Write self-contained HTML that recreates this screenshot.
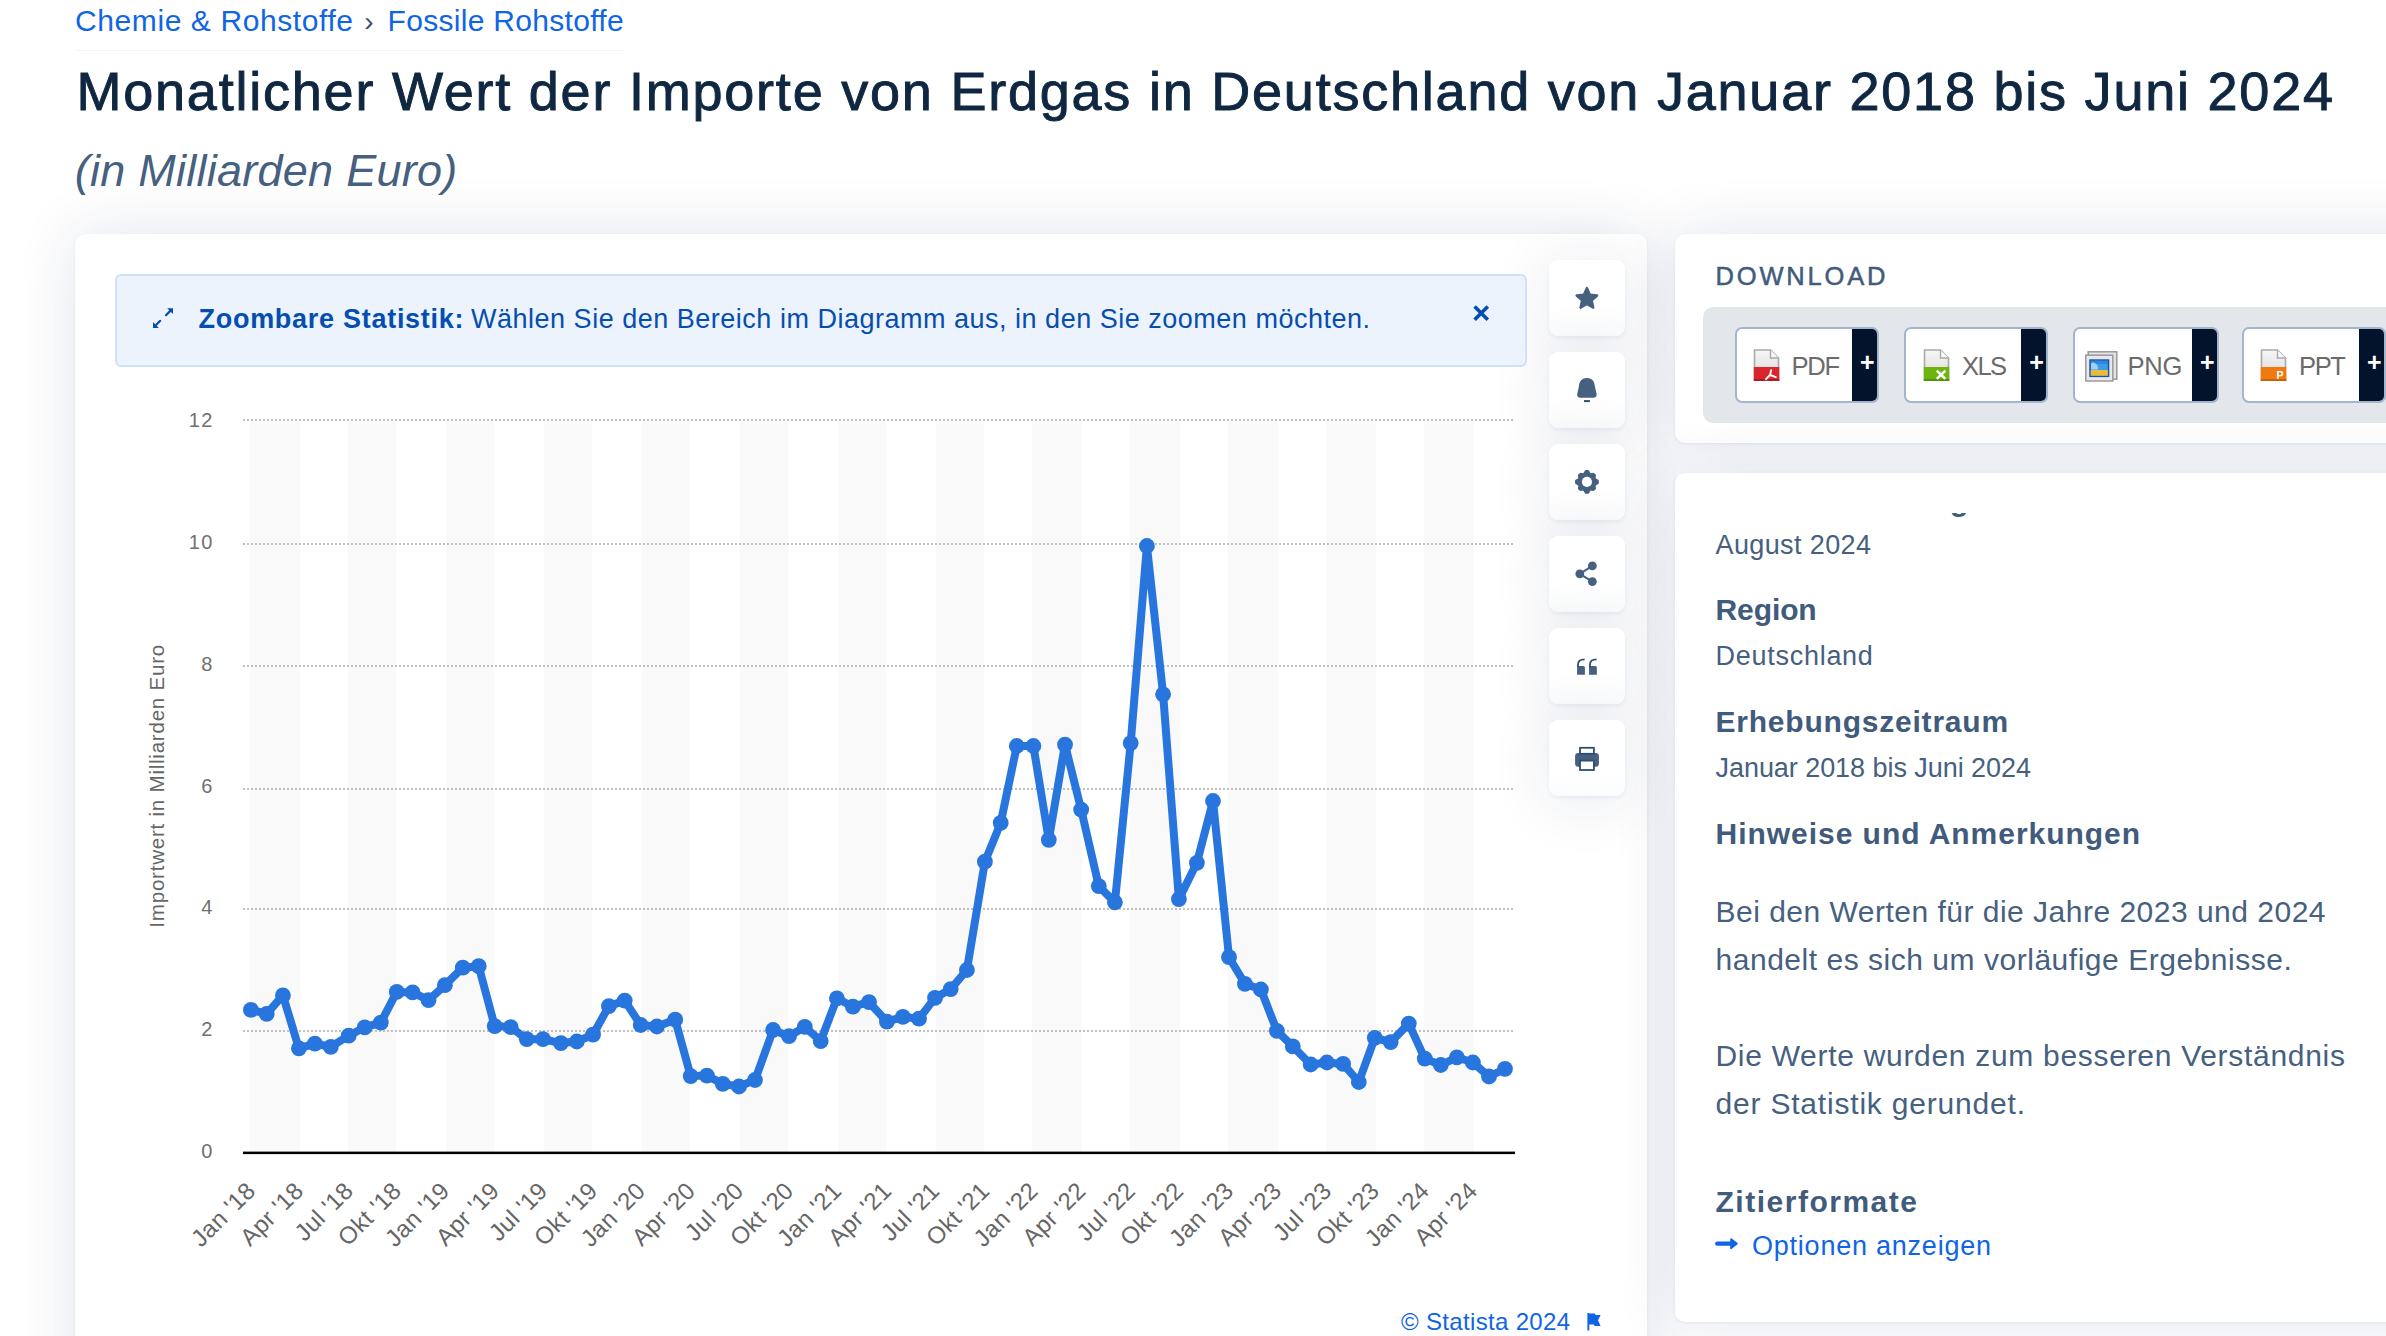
<!DOCTYPE html>
<html lang="de"><head><meta charset="utf-8"><title>Monatlicher Wert der Importe von Erdgas in Deutschland</title>
<style>
html,body{margin:0;padding:0;background:#fff;}
body{width:2386px;height:1336px;overflow:hidden;position:relative;font-family:'Liberation Sans',sans-serif;}
.t{position:absolute;white-space:pre;margin:0;padding:0;font-weight:400;font-style:normal;text-decoration:none;display:block;}
.card{position:absolute;background:#fff;border-radius:10px;box-shadow:0 1px 3px rgba(12,40,85,.07),0 0 62px rgba(10,40,95,.12);}
.chart{position:absolute;left:0;top:0;pointer-events:none;}
.info{position:absolute;left:115px;top:274px;width:1408px;height:88.5px;border:2px solid #cfe0f8;border-radius:6px;background:#ecf3fd;}
.act{position:absolute;left:1549px;width:76px;height:76px;border-radius:9px;background:linear-gradient(#fff 62%,#fbfcfd);box-shadow:0 2px 4px rgba(12,40,85,.06),0 5px 64px rgba(12,40,85,.105);}
.dlbar{position:absolute;left:1703px;top:307px;width:760px;height:115.7px;border-radius:10px;background:#e3e6ea;}
.dl{position:absolute;top:327px;height:71.5px;border:2px solid #a3b6cd;border-radius:7px;background:#fff;overflow:hidden;}
.dl i{position:absolute;right:0;top:0;bottom:0;width:25.7px;background:#02132b;}
.dl b{position:absolute;right:-3.3px;top:18.2px;width:26.5px;text-align:center;color:#fff;font-size:25px;line-height:30px;font-weight:700;}
.fi{position:absolute;}
.bcline{position:absolute;left:75px;top:49.5px;width:549px;height:1.5px;background:#f4f5f7;}
.clip{position:absolute;left:1700px;top:512.6px;width:686px;height:30px;overflow:hidden;}
</style></head><body>
<div class="bcline"></div>
<div class="card" style="left:75px;top:234px;width:1572px;height:1200px"></div>
<div class="card" style="left:1675px;top:234px;width:800px;height:209px"></div>
<div class="card" style="left:1675px;top:473px;width:800px;height:848.5px"></div>
<div class="act" style="top:260px"></div><div class="act" style="top:352px"></div><div class="act" style="top:444px"></div>
<div class="act" style="top:536px"></div><div class="act" style="top:628px"></div><div class="act" style="top:720px"></div>
<div class="info"></div>
<div class="dlbar"></div>
<div class="dl" style="left:1735.3px;width:140px"><i></i><b>+</b></div>
<div class="dl" style="left:1904.4px;width:140px"><i></i><b>+</b></div>
<div class="dl" style="left:2073.2px;width:142px"><i></i><b>+</b></div>
<div class="dl" style="left:2242.3px;width:140px"><i></i><b>+</b></div>
<svg class="fi" style="left:1752.5px;top:349.2px" width="27" height="32" viewBox="0 0 27 32">
<defs><linearGradient id="gd9252c" x1="0" y1="0" x2="0" y2="1"><stop offset="0" stop-color="#f6f6f6"/><stop offset="1" stop-color="#dadada"/></linearGradient></defs>
<path d="M1.5 1 H17.5 L25.5 9 V31 H1.5 Z" fill="url(#gd9252c)" stroke="#a9a9a9" stroke-width="1.6"/>
<path d="M17.5 1 V9 H25.5" fill="#fafafa" stroke="#a9a9a9" stroke-width="1.4"/>
<rect x="0.8" y="18" width="25.5" height="13.8" fill="#d9252c"/>
<rect x="0.8" y="30.2" width="25.5" height="1.6" fill="#a8181e"/>
<path d="M18.2 21.2 L17 26 L13 30.2 M17 26 L22.8 28.2" stroke="#fff" stroke-width="1.9" fill="none" stroke-linecap="round"/>
</svg>
<svg class="fi" style="left:1923.3px;top:349.2px" width="27" height="32" viewBox="0 0 27 32">
<defs><linearGradient id="g6db50e" x1="0" y1="0" x2="0" y2="1"><stop offset="0" stop-color="#f6f6f6"/><stop offset="1" stop-color="#dadada"/></linearGradient></defs>
<path d="M1.5 1 H17.5 L25.5 9 V31 H1.5 Z" fill="url(#g6db50e)" stroke="#a9a9a9" stroke-width="1.6"/>
<path d="M17.5 1 V9 H25.5" fill="#fafafa" stroke="#a9a9a9" stroke-width="1.4"/>
<rect x="0.8" y="18" width="25.5" height="13.8" fill="#6db50e"/>
<rect x="0.8" y="30.2" width="25.5" height="1.6" fill="#4b8a07"/>
<path d="M13.8 21.6 L22.4 29.8 M22.4 21.6 L13.8 29.8" stroke="#fff" stroke-width="2.5" fill="none"/>
</svg>
<svg class="fi" style="left:2085px;top:350.5px" width="33" height="31" viewBox="0 0 33 31">
<rect x="3.2" y="0.8" width="28.6" height="27.4" fill="#e4e4e4" stroke="#9a9a9a" stroke-width="1.5"/>
<rect x="0.8" y="4.2" width="27" height="25.8" fill="#e9e9e9" stroke="#9a9a9a" stroke-width="1.5"/>
<rect x="5" y="9" width="18.6" height="16.4" fill="#3f9be6" stroke="#1c4fa8" stroke-width="1.4"/>
<rect x="5.7" y="19" width="17.2" height="5.7" fill="#e9bb3c"/>
<rect x="5.7" y="9.8" width="17.2" height="3" fill="#2a86e0"/><path d="M6 18.5 V12.5 Q8 10.5 10.5 12.5 Q13.5 14 13 18.5 Z" fill="#9fd0f5"/>
</svg>
<svg class="fi" style="left:2260.4px;top:349.2px" width="27" height="32" viewBox="0 0 27 32">
<defs><linearGradient id="gf07a10" x1="0" y1="0" x2="0" y2="1"><stop offset="0" stop-color="#f6f6f6"/><stop offset="1" stop-color="#dadada"/></linearGradient></defs>
<path d="M1.5 1 H17.5 L25.5 9 V31 H1.5 Z" fill="url(#gf07a10)" stroke="#a9a9a9" stroke-width="1.6"/>
<path d="M17.5 1 V9 H25.5" fill="#fafafa" stroke="#a9a9a9" stroke-width="1.4"/>
<rect x="0.8" y="18" width="25.5" height="13.8" fill="#f07a10"/>
<rect x="0.8" y="30.2" width="25.5" height="1.6" fill="#c25a05"/>
<text x="16.6" y="29.8" font-family="Liberation Sans, sans-serif" font-weight="700" font-size="10.5" fill="#fff">P</text>
</svg>
<svg class="chart" width="2386" height="1336" viewBox="0 0 2386 1336">
<rect x="250" y="421" width="50" height="731" fill="#f9f9f9"/>
<rect x="348" y="421" width="48" height="731" fill="#f9f9f9"/>
<rect x="446" y="421" width="48" height="731" fill="#f9f9f9"/>
<rect x="544" y="421" width="48" height="731" fill="#f9f9f9"/>
<rect x="642" y="421" width="48" height="731" fill="#f9f9f9"/>
<rect x="740" y="421" width="48" height="731" fill="#f9f9f9"/>
<rect x="838" y="421" width="48" height="731" fill="#f9f9f9"/>
<rect x="936" y="421" width="48" height="731" fill="#f9f9f9"/>
<rect x="1032" y="421" width="50" height="731" fill="#f9f9f9"/>
<rect x="1130" y="421" width="50" height="731" fill="#f9f9f9"/>
<rect x="1228" y="421" width="50" height="731" fill="#f9f9f9"/>
<rect x="1326" y="421" width="50" height="731" fill="#f9f9f9"/>
<rect x="1424" y="421" width="50" height="731" fill="#f9f9f9"/>
<line x1="243" x2="1514" y1="420" y2="420" stroke="#c0c0c0" stroke-width="2" stroke-dasharray="2 2"/>
<line x1="243" x2="1514" y1="544" y2="544" stroke="#c0c0c0" stroke-width="2" stroke-dasharray="2 2"/>
<line x1="243" x2="1514" y1="666" y2="666" stroke="#c0c0c0" stroke-width="2" stroke-dasharray="2 2"/>
<line x1="243" x2="1514" y1="789" y2="789" stroke="#c0c0c0" stroke-width="2" stroke-dasharray="2 2"/>
<line x1="243" x2="1514" y1="909" y2="909" stroke="#c0c0c0" stroke-width="2" stroke-dasharray="2 2"/>
<line x1="243" x2="1514" y1="1031" y2="1031" stroke="#c0c0c0" stroke-width="2" stroke-dasharray="2 2"/>
<rect x="243" y="1151.6" width="1272" height="2.5" fill="#000"/>
<text x="213.7" y="427.1" text-anchor="end" font-family="Liberation Sans, sans-serif" font-size="20" letter-spacing="1.4" fill="#707070">12</text>
<text x="213.7" y="548.9" text-anchor="end" font-family="Liberation Sans, sans-serif" font-size="20" letter-spacing="1.4" fill="#707070">10</text>
<text x="213.7" y="671.4" text-anchor="end" font-family="Liberation Sans, sans-serif" font-size="20" letter-spacing="1.4" fill="#707070">8</text>
<text x="213.7" y="793.3" text-anchor="end" font-family="Liberation Sans, sans-serif" font-size="20" letter-spacing="1.4" fill="#707070">6</text>
<text x="213.7" y="914.4" text-anchor="end" font-family="Liberation Sans, sans-serif" font-size="20" letter-spacing="1.4" fill="#707070">4</text>
<text x="213.7" y="1036.2" text-anchor="end" font-family="Liberation Sans, sans-serif" font-size="20" letter-spacing="1.4" fill="#707070">2</text>
<text x="213.7" y="1158.1" text-anchor="end" font-family="Liberation Sans, sans-serif" font-size="20" letter-spacing="1.4" fill="#707070">0</text>
<text transform="translate(163.8 786.2) rotate(-90)" text-anchor="middle" textLength="283" lengthAdjust="spacing" font-family="Liberation Sans, sans-serif" font-size="20.6" fill="#666">Importwert in Milliarden Euro</text>
<text transform="translate(256.9 1192.2) rotate(-45)" text-anchor="end" font-family="Liberation Sans, sans-serif" font-size="24" letter-spacing="0.35" fill="#666">Jan '18</text>
<text transform="translate(304.9 1192.2) rotate(-45)" text-anchor="end" font-family="Liberation Sans, sans-serif" font-size="24" letter-spacing="0.35" fill="#666">Apr '18</text>
<text transform="translate(354.7 1192.2) rotate(-45)" text-anchor="end" font-family="Liberation Sans, sans-serif" font-size="24" letter-spacing="0.35" fill="#666">Jul '18</text>
<text transform="translate(402.8 1192.2) rotate(-45)" text-anchor="end" font-family="Liberation Sans, sans-serif" font-size="24" letter-spacing="0.35" fill="#666">Okt '18</text>
<text transform="translate(450.9 1192.2) rotate(-45)" text-anchor="end" font-family="Liberation Sans, sans-serif" font-size="24" letter-spacing="0.35" fill="#666">Jan '19</text>
<text transform="translate(500.7 1192.2) rotate(-45)" text-anchor="end" font-family="Liberation Sans, sans-serif" font-size="24" letter-spacing="0.35" fill="#666">Apr '19</text>
<text transform="translate(549.0 1192.2) rotate(-45)" text-anchor="end" font-family="Liberation Sans, sans-serif" font-size="24" letter-spacing="0.35" fill="#666">Jul '19</text>
<text transform="translate(599.0 1192.2) rotate(-45)" text-anchor="end" font-family="Liberation Sans, sans-serif" font-size="24" letter-spacing="0.35" fill="#666">Okt '19</text>
<text transform="translate(646.7 1192.2) rotate(-45)" text-anchor="end" font-family="Liberation Sans, sans-serif" font-size="24" letter-spacing="0.35" fill="#666">Jan '20</text>
<text transform="translate(696.7 1192.2) rotate(-45)" text-anchor="end" font-family="Liberation Sans, sans-serif" font-size="24" letter-spacing="0.35" fill="#666">Apr '20</text>
<text transform="translate(745.0 1192.2) rotate(-45)" text-anchor="end" font-family="Liberation Sans, sans-serif" font-size="24" letter-spacing="0.35" fill="#666">Jul '20</text>
<text transform="translate(795.0 1192.2) rotate(-45)" text-anchor="end" font-family="Liberation Sans, sans-serif" font-size="24" letter-spacing="0.35" fill="#666">Okt '20</text>
<text transform="translate(842.9 1192.2) rotate(-45)" text-anchor="end" font-family="Liberation Sans, sans-serif" font-size="24" letter-spacing="0.35" fill="#666">Jan '21</text>
<text transform="translate(892.9 1192.2) rotate(-45)" text-anchor="end" font-family="Liberation Sans, sans-serif" font-size="24" letter-spacing="0.35" fill="#666">Apr '21</text>
<text transform="translate(941.0 1192.2) rotate(-45)" text-anchor="end" font-family="Liberation Sans, sans-serif" font-size="24" letter-spacing="0.35" fill="#666">Jul '21</text>
<text transform="translate(990.9 1192.2) rotate(-45)" text-anchor="end" font-family="Liberation Sans, sans-serif" font-size="24" letter-spacing="0.35" fill="#666">Okt '21</text>
<text transform="translate(1039.4 1192.2) rotate(-45)" text-anchor="end" font-family="Liberation Sans, sans-serif" font-size="24" letter-spacing="0.35" fill="#666">Jan '22</text>
<text transform="translate(1087.2 1192.2) rotate(-45)" text-anchor="end" font-family="Liberation Sans, sans-serif" font-size="24" letter-spacing="0.35" fill="#666">Apr '22</text>
<text transform="translate(1136.7 1192.2) rotate(-45)" text-anchor="end" font-family="Liberation Sans, sans-serif" font-size="24" letter-spacing="0.35" fill="#666">Jul '22</text>
<text transform="translate(1184.9 1192.2) rotate(-45)" text-anchor="end" font-family="Liberation Sans, sans-serif" font-size="24" letter-spacing="0.35" fill="#666">Okt '22</text>
<text transform="translate(1235.0 1192.2) rotate(-45)" text-anchor="end" font-family="Liberation Sans, sans-serif" font-size="24" letter-spacing="0.35" fill="#666">Jan '23</text>
<text transform="translate(1282.9 1192.2) rotate(-45)" text-anchor="end" font-family="Liberation Sans, sans-serif" font-size="24" letter-spacing="0.35" fill="#666">Apr '23</text>
<text transform="translate(1332.9 1192.2) rotate(-45)" text-anchor="end" font-family="Liberation Sans, sans-serif" font-size="24" letter-spacing="0.35" fill="#666">Jul '23</text>
<text transform="translate(1380.8 1192.2) rotate(-45)" text-anchor="end" font-family="Liberation Sans, sans-serif" font-size="24" letter-spacing="0.35" fill="#666">Okt '23</text>
<text transform="translate(1430.8 1192.2) rotate(-45)" text-anchor="end" font-family="Liberation Sans, sans-serif" font-size="24" letter-spacing="0.35" fill="#666">Jan '24</text>
<text transform="translate(1478.9 1192.2) rotate(-45)" text-anchor="end" font-family="Liberation Sans, sans-serif" font-size="24" letter-spacing="0.35" fill="#666">Apr '24</text>
<path d="M250.9 1009.9 L266.7 1013.9 L282.9 995.4 L298.9 1048.3 L314.9 1043.6 L330.8 1046.9 L348.7 1035.7 L364.7 1027.3 L380.8 1022.6 L396.8 991.9 L412.6 992.4 L428.5 1000.2 L444.9 985.2 L462.8 967.7 L478.7 966.2 L494.7 1026.1 L510.7 1027.1 L526.8 1039.2 L543.0 1039.2 L560.9 1043.1 L576.8 1041.5 L593.0 1034.7 L608.9 1006.1 L624.7 1000.6 L640.7 1025.0 L656.9 1026.5 L675.2 1019.7 L690.7 1076.1 L706.9 1075.6 L722.8 1083.9 L739.0 1086.5 L755.0 1080.0 L773.1 1030.0 L789.0 1036.2 L804.8 1026.9 L820.7 1041.1 L836.9 998.3 L852.9 1006.7 L869.0 1002.2 L886.9 1021.6 L902.9 1016.8 L919.0 1018.7 L935.0 997.9 L950.7 989.1 L966.9 970.0 L984.9 861.7 L1000.7 822.9 L1016.8 746.0 L1033.4 746.0 L1048.8 839.8 L1065.0 744.6 L1081.2 809.6 L1098.8 886.2 L1114.9 902.3 L1130.7 743.1 L1146.9 546.0 L1163.1 694.3 L1178.9 899.1 L1196.9 862.8 L1213.0 801.0 L1229.0 957.2 L1244.9 983.8 L1260.9 989.5 L1276.9 1030.8 L1292.8 1046.4 L1310.7 1064.5 L1326.9 1062.5 L1343.1 1063.9 L1358.8 1082.0 L1374.8 1037.8 L1390.7 1042.1 L1408.8 1023.6 L1424.8 1058.6 L1440.8 1065.0 L1456.9 1057.3 L1472.9 1062.5 L1489.0 1076.5 L1505.0 1068.9" fill="none" stroke="#2875dd" stroke-width="8" stroke-linejoin="round" stroke-linecap="round"/>
<circle cx="250.9" cy="1009.9" r="7.9" fill="#2875dd"/>
<circle cx="266.7" cy="1013.9" r="7.9" fill="#2875dd"/>
<circle cx="282.9" cy="995.4" r="7.9" fill="#2875dd"/>
<circle cx="298.9" cy="1048.3" r="7.9" fill="#2875dd"/>
<circle cx="314.9" cy="1043.6" r="7.9" fill="#2875dd"/>
<circle cx="330.8" cy="1046.9" r="7.9" fill="#2875dd"/>
<circle cx="348.7" cy="1035.7" r="7.9" fill="#2875dd"/>
<circle cx="364.7" cy="1027.3" r="7.9" fill="#2875dd"/>
<circle cx="380.8" cy="1022.6" r="7.9" fill="#2875dd"/>
<circle cx="396.8" cy="991.9" r="7.9" fill="#2875dd"/>
<circle cx="412.6" cy="992.4" r="7.9" fill="#2875dd"/>
<circle cx="428.5" cy="1000.2" r="7.9" fill="#2875dd"/>
<circle cx="444.9" cy="985.2" r="7.9" fill="#2875dd"/>
<circle cx="462.8" cy="967.7" r="7.9" fill="#2875dd"/>
<circle cx="478.7" cy="966.2" r="7.9" fill="#2875dd"/>
<circle cx="494.7" cy="1026.1" r="7.9" fill="#2875dd"/>
<circle cx="510.7" cy="1027.1" r="7.9" fill="#2875dd"/>
<circle cx="526.8" cy="1039.2" r="7.9" fill="#2875dd"/>
<circle cx="543.0" cy="1039.2" r="7.9" fill="#2875dd"/>
<circle cx="560.9" cy="1043.1" r="7.9" fill="#2875dd"/>
<circle cx="576.8" cy="1041.5" r="7.9" fill="#2875dd"/>
<circle cx="593.0" cy="1034.7" r="7.9" fill="#2875dd"/>
<circle cx="608.9" cy="1006.1" r="7.9" fill="#2875dd"/>
<circle cx="624.7" cy="1000.6" r="7.9" fill="#2875dd"/>
<circle cx="640.7" cy="1025.0" r="7.9" fill="#2875dd"/>
<circle cx="656.9" cy="1026.5" r="7.9" fill="#2875dd"/>
<circle cx="675.2" cy="1019.7" r="7.9" fill="#2875dd"/>
<circle cx="690.7" cy="1076.1" r="7.9" fill="#2875dd"/>
<circle cx="706.9" cy="1075.6" r="7.9" fill="#2875dd"/>
<circle cx="722.8" cy="1083.9" r="7.9" fill="#2875dd"/>
<circle cx="739.0" cy="1086.5" r="7.9" fill="#2875dd"/>
<circle cx="755.0" cy="1080.0" r="7.9" fill="#2875dd"/>
<circle cx="773.1" cy="1030.0" r="7.9" fill="#2875dd"/>
<circle cx="789.0" cy="1036.2" r="7.9" fill="#2875dd"/>
<circle cx="804.8" cy="1026.9" r="7.9" fill="#2875dd"/>
<circle cx="820.7" cy="1041.1" r="7.9" fill="#2875dd"/>
<circle cx="836.9" cy="998.3" r="7.9" fill="#2875dd"/>
<circle cx="852.9" cy="1006.7" r="7.9" fill="#2875dd"/>
<circle cx="869.0" cy="1002.2" r="7.9" fill="#2875dd"/>
<circle cx="886.9" cy="1021.6" r="7.9" fill="#2875dd"/>
<circle cx="902.9" cy="1016.8" r="7.9" fill="#2875dd"/>
<circle cx="919.0" cy="1018.7" r="7.9" fill="#2875dd"/>
<circle cx="935.0" cy="997.9" r="7.9" fill="#2875dd"/>
<circle cx="950.7" cy="989.1" r="7.9" fill="#2875dd"/>
<circle cx="966.9" cy="970.0" r="7.9" fill="#2875dd"/>
<circle cx="984.9" cy="861.7" r="7.9" fill="#2875dd"/>
<circle cx="1000.7" cy="822.9" r="7.9" fill="#2875dd"/>
<circle cx="1016.8" cy="746.0" r="7.9" fill="#2875dd"/>
<circle cx="1033.4" cy="746.0" r="7.9" fill="#2875dd"/>
<circle cx="1048.8" cy="839.8" r="7.9" fill="#2875dd"/>
<circle cx="1065.0" cy="744.6" r="7.9" fill="#2875dd"/>
<circle cx="1081.2" cy="809.6" r="7.9" fill="#2875dd"/>
<circle cx="1098.8" cy="886.2" r="7.9" fill="#2875dd"/>
<circle cx="1114.9" cy="902.3" r="7.9" fill="#2875dd"/>
<circle cx="1130.7" cy="743.1" r="7.9" fill="#2875dd"/>
<circle cx="1146.9" cy="546.0" r="7.9" fill="#2875dd"/>
<circle cx="1163.1" cy="694.3" r="7.9" fill="#2875dd"/>
<circle cx="1178.9" cy="899.1" r="7.9" fill="#2875dd"/>
<circle cx="1196.9" cy="862.8" r="7.9" fill="#2875dd"/>
<circle cx="1213.0" cy="801.0" r="7.9" fill="#2875dd"/>
<circle cx="1229.0" cy="957.2" r="7.9" fill="#2875dd"/>
<circle cx="1244.9" cy="983.8" r="7.9" fill="#2875dd"/>
<circle cx="1260.9" cy="989.5" r="7.9" fill="#2875dd"/>
<circle cx="1276.9" cy="1030.8" r="7.9" fill="#2875dd"/>
<circle cx="1292.8" cy="1046.4" r="7.9" fill="#2875dd"/>
<circle cx="1310.7" cy="1064.5" r="7.9" fill="#2875dd"/>
<circle cx="1326.9" cy="1062.5" r="7.9" fill="#2875dd"/>
<circle cx="1343.1" cy="1063.9" r="7.9" fill="#2875dd"/>
<circle cx="1358.8" cy="1082.0" r="7.9" fill="#2875dd"/>
<circle cx="1374.8" cy="1037.8" r="7.9" fill="#2875dd"/>
<circle cx="1390.7" cy="1042.1" r="7.9" fill="#2875dd"/>
<circle cx="1408.8" cy="1023.6" r="7.9" fill="#2875dd"/>
<circle cx="1424.8" cy="1058.6" r="7.9" fill="#2875dd"/>
<circle cx="1440.8" cy="1065.0" r="7.9" fill="#2875dd"/>
<circle cx="1456.9" cy="1057.3" r="7.9" fill="#2875dd"/>
<circle cx="1472.9" cy="1062.5" r="7.9" fill="#2875dd"/>
<circle cx="1489.0" cy="1076.5" r="7.9" fill="#2875dd"/>
<circle cx="1505.0" cy="1068.9" r="7.9" fill="#2875dd"/>
</svg>
<svg class="chart" width="2386" height="1336" viewBox="0 0 2386 1336">
<polygon points="1586.90,288.10 1589.90,294.77 1597.17,295.56 1591.75,300.48 1593.25,307.64 1586.90,304.00 1580.55,307.64 1582.05,300.48 1576.63,295.56 1583.90,294.77" fill="#46607f" stroke="#46607f" stroke-width="2.4" stroke-linejoin="round"/>
<path d="M1586.9 378 C1581.3 378 1579.2 382 1578.9 386.5 L1577.2 394 C1576.8 396.6 1578.4 397.8 1580.4 397.8 L1593.4 397.8 C1595.4 397.8 1597 396.6 1596.6 394 L1594.9 386.5 C1594.6 382 1592.5 378 1586.9 378 Z" fill="#46607f"/>
<rect x="1584" y="400.1" width="5.9" height="2" fill="#2f4e73"/>
<circle cx="1586.95" cy="481.9" r="8.3" fill="#46607f"/>
<polygon points="1593.95,478.70 1597.65,480.90 1597.65,482.90 1593.95,485.10" fill="#46607f" stroke="#46607f" stroke-width="2.4" stroke-linejoin="round"/>
<polygon points="1594.16,484.59 1594.80,488.33 1593.38,489.75 1589.64,489.11" fill="#46607f" stroke="#46607f" stroke-width="2.4" stroke-linejoin="round"/>
<polygon points="1590.15,488.90 1587.95,492.60 1585.95,492.60 1583.75,488.90" fill="#46607f" stroke="#46607f" stroke-width="2.4" stroke-linejoin="round"/>
<polygon points="1584.26,489.11 1580.52,489.75 1579.10,488.33 1579.74,484.59" fill="#46607f" stroke="#46607f" stroke-width="2.4" stroke-linejoin="round"/>
<polygon points="1579.95,485.10 1576.25,482.90 1576.25,480.90 1579.95,478.70" fill="#46607f" stroke="#46607f" stroke-width="2.4" stroke-linejoin="round"/>
<polygon points="1579.74,479.21 1579.10,475.47 1580.52,474.05 1584.26,474.69" fill="#46607f" stroke="#46607f" stroke-width="2.4" stroke-linejoin="round"/>
<polygon points="1583.75,474.90 1585.95,471.20 1587.95,471.20 1590.15,474.90" fill="#46607f" stroke="#46607f" stroke-width="2.4" stroke-linejoin="round"/>
<polygon points="1589.64,474.69 1593.38,474.05 1594.80,475.47 1594.16,479.21" fill="#46607f" stroke="#46607f" stroke-width="2.4" stroke-linejoin="round"/>
<circle cx="1586.95" cy="481.9" r="5.05" fill="#fff"/>
<g stroke="#46607f" stroke-width="2" fill="#46607f">
<line x1="1579.8" y1="573.8" x2="1592.35" y2="565.9"/><line x1="1579.8" y1="573.8" x2="1592.35" y2="581.6"/>
</g>
<circle cx="1592.35" cy="565.9" r="4.4" fill="#46607f"/><circle cx="1579.8" cy="573.8" r="4.4" fill="#46607f"/><circle cx="1592.35" cy="581.6" r="4.4" fill="#46607f"/>
<g id="q">
<path d="M1577.1 666.1 H1583.4 Q1584.9 666.1 1584.9 667.6 V674.8 H1577.1 Z" fill="#46607f"/>
<path d="M1578 667 V664.5 C1578 661.2 1580.8 659.3 1584.6 659.3" fill="none" stroke="#2f4e73" stroke-width="1.8" stroke-linecap="butt"/>
</g>
<g transform="translate(11.95 0)">
<path d="M1577.1 666.1 H1583.4 Q1584.9 666.1 1584.9 667.6 V674.8 H1577.1 Z" fill="#46607f"/>
<path d="M1578 667 V664.5 C1578 661.2 1580.8 659.3 1584.6 659.3" fill="none" stroke="#2f4e73" stroke-width="1.8" stroke-linecap="butt"/>
</g>
<rect x="1575.1" y="753" width="23.8" height="13.8" rx="3.2" fill="#46607f"/>
<rect x="1580" y="747.8" width="13.9" height="6" fill="#fff" stroke="#2f4e73" stroke-width="1.8"/>
<rect x="1580" y="760.6" width="13.9" height="9.4" fill="#fff" stroke="#2f4e73" stroke-width="1.8"/>
<!-- expand -->
<g fill="#054eb1" stroke="none">
<polygon points="167.2,308.2 173,308.2 173,314 "/>
<polygon points="153,322.1 153,327.9 158.8,327.9"/>
</g>
<g stroke="#054eb1" stroke-width="2.2" stroke-linecap="round">
<line x1="166" y1="315.2" x2="170.8" y2="310.4"/>
<line x1="160.2" y1="320.8" x2="155.3" y2="325.7"/>
</g>
<g stroke="#054eb1" stroke-width="3.6">
<line x1="1474.6" y1="306.5" x2="1487.8" y2="319.7"/><line x1="1487.8" y1="306.5" x2="1474.6" y2="319.7"/>
</g>
<!-- flag -->
<rect x="1587.4" y="1313" width="1.9" height="17.5" fill="#0f65e5"/>
<polygon points="1589,1313.4 1595,1313.4 1595.5,1315 1600.6,1315 1598,1320.2 1600.6,1326 1594.5,1326 1594,1324.4 1589,1324.4" fill="#0f65e5"/>
<!-- arrow -->
<line x1="1717.2" y1="1243.7" x2="1732" y2="1243.7" stroke="#0f65e5" stroke-width="4.2" stroke-linecap="round"/>
<polygon points="1731,1239 1737,1243.7 1731,1248.4" fill="#0f65e5" stroke="#0f65e5" stroke-width="1.6" stroke-linejoin="round"/>
</svg>
<div class="clip"><span class="t" style="left:14.5px;top:-30px;font-size:30px;line-height:36px;font-weight:700;color:#415b7c;letter-spacing:1.15px">Veröffentlichungsdatum</span></div>
<a class="t" style="left:75px;top:3.30px;font-size:30px;line-height:36px;letter-spacing:0.593px;color:#0f65e5;">Chemie &amp; Rohstoffe</a>
<span class="t" style="left:364.3px;top:5.10px;font-size:28px;line-height:34px;color:#3b4b63;">›</span>
<a class="t" style="left:387.6px;top:3.30px;font-size:30px;line-height:36px;letter-spacing:0.298px;color:#0f65e5;">Fossile Rohstoffe</a>
<h1 class="t" style="left:76.5px;top:58.80px;font-size:54px;line-height:65px;letter-spacing:1.775px;color:#0f2741;-webkit-text-stroke:0.95px #0f2741;">Monatlicher Wert der Importe von Erdgas in Deutschland von Januar 2018 bis Juni 2024</h1>
<h2 class="t" style="left:74.7px;top:143.80px;font-size:45px;line-height:54px;font-style:italic;letter-spacing:0.257px;color:#46607f;">(in Milliarden Euro)</h2>
<strong class="t" style="left:198.5px;top:302.50px;font-size:27px;line-height:33px;font-weight:700;letter-spacing:0.720px;color:#054eb1;">Zoombare Statistik:</strong>
<span class="t" style="left:471px;top:302.50px;font-size:27px;line-height:33px;letter-spacing:0.509px;color:#054eb1;">Wählen Sie den Bereich im Diagramm aus, in den Sie zoomen möchten.</span>
<a class="t" style="left:1401px;top:1306.50px;font-size:24px;line-height:29px;letter-spacing:0.325px;color:#0f65e5;">© Statista 2024</a>
<h3 class="t" style="left:1715.5px;top:260.90px;font-size:25.5px;line-height:31px;letter-spacing:2.830px;color:#415b7c;-webkit-text-stroke:0.5px #415b7c;">DOWNLOAD</h3>
<p class="t" style="left:1715.5px;top:528.80px;font-size:27px;line-height:33px;letter-spacing:0.388px;color:#46607f;">August 2024</p>
<h3 class="t" style="left:1715.5px;top:591.80px;font-size:30px;line-height:36px;font-weight:700;letter-spacing:-0.094px;color:#415b7c;">Region</h3>
<p class="t" style="left:1715.5px;top:639.80px;font-size:27px;line-height:33px;letter-spacing:0.729px;color:#46607f;">Deutschland</p>
<h3 class="t" style="left:1715.5px;top:703.80px;font-size:30px;line-height:36px;font-weight:700;letter-spacing:0.784px;color:#415b7c;">Erhebungszeitraum</h3>
<p class="t" style="left:1715.5px;top:751.80px;font-size:27px;line-height:33px;letter-spacing:-0.052px;color:#46607f;">Januar 2018 bis Juni 2024</p>
<h3 class="t" style="left:1715.5px;top:815.80px;font-size:30px;line-height:36px;font-weight:700;letter-spacing:0.970px;color:#415b7c;">Hinweise und Anmerkungen</h3>
<p class="t" style="left:1715.5px;top:893.80px;font-size:30px;line-height:36px;letter-spacing:0.491px;color:#46607f;">Bei den Werten für die Jahre 2023 und 2024</p>
<p class="t" style="left:1715.5px;top:941.80px;font-size:30px;line-height:36px;letter-spacing:0.525px;color:#46607f;">handelt es sich um vorläufige Ergebnisse.</p>
<p class="t" style="left:1715.5px;top:1037.80px;font-size:30px;line-height:36px;letter-spacing:0.700px;color:#46607f;">Die Werte wurden zum besseren Verständnis</p>
<p class="t" style="left:1715.5px;top:1085.80px;font-size:30px;line-height:36px;letter-spacing:0.803px;color:#46607f;">der Statistik gerundet.</p>
<h3 class="t" style="left:1715.5px;top:1183.80px;font-size:30px;line-height:36px;font-weight:700;letter-spacing:1.510px;color:#415b7c;">Zitierformate</h3>
<a class="t" style="left:1752px;top:1229.80px;font-size:27px;line-height:33px;letter-spacing:0.770px;color:#0f65e5;">Optionen anzeigen</a>
<span class="t" style="left:1791.5px;top:350.80px;font-size:25.6px;line-height:31px;letter-spacing:-1.294px;color:#6b6b6b;">PDF</span>
<span class="t" style="left:1962px;top:350.80px;font-size:25.6px;line-height:31px;letter-spacing:-1.595px;color:#6b6b6b;">XLS</span>
<span class="t" style="left:2127.5px;top:350.80px;font-size:25.6px;line-height:31px;letter-spacing:-0.234px;color:#6b6b6b;">PNG</span>
<span class="t" style="left:2299px;top:350.80px;font-size:25.6px;line-height:31px;letter-spacing:-1.391px;color:#6b6b6b;">PPT</span>
</body></html>
